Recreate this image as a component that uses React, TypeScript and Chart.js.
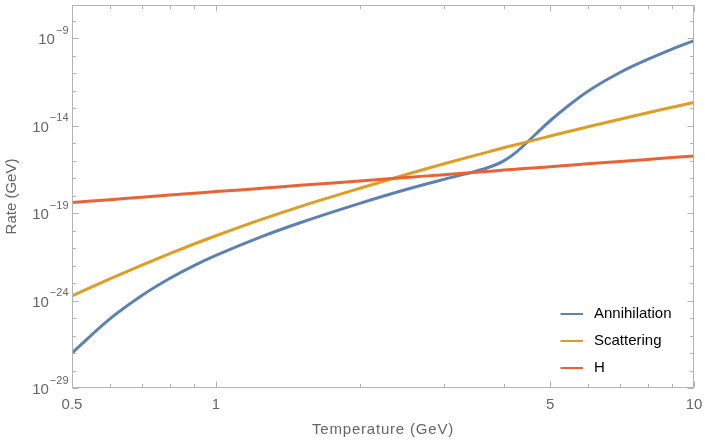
import React, { useEffect, useRef } from "react";
import { Chart, registerables } from "chart.js";

Chart.register(...registerables);

// ---- data ----
const temperatures = [0.5, 0.6, 0.7, 0.8, 0.9, 1, 1.25, 1.5, 2, 2.5, 3, 3.5, 3.75, 4, 4.25, 4.5, 4.75, 5, 5.5, 6, 7, 8, 9, 10];

const annihilationRate = [
  1.0e-27, 8.91e-26, 1.95e-24, 1.82e-23, 1.0e-22, 3.8e-22, 4.68e-21, 2.82e-20, 3.63e-19, 2.24e-18,
  8.51e-18, 2.51e-17, 4.47e-17, 9.77e-17, 3.09e-16, 1.29e-15, 5.25e-15, 1.91e-14, 1.62e-13, 9.33e-13,
  1.1e-11, 6.17e-11, 2.4e-10, 7.24e-10,
];

const scatteringRate = [
  1.86e-24, 1.72e-23, 1.06e-22, 4.79e-22, 1.71e-21, 5.06e-21, 4.51e-20, 2.37e-19, 2.65e-18, 1.62e-17,
  6.59e-17, 2.07e-16, 3.41e-16, 5.41e-16, 8.26e-16, 1.23e-15, 1.78e-15, 2.54e-15, 4.82e-15, 8.59e-15,
  2.34e-14, 5.46e-14, 1.13e-13, 2.15e-13,
];

const hubbleRate = [
  4.07e-19, 5.89e-19, 8.13e-19, 1.07e-18, 1.35e-18, 1.7e-18, 2.63e-18, 3.89e-18, 6.92e-18, 1.1e-17,
  1.58e-17, 2.19e-17, 2.51e-17, 2.88e-17, 3.24e-17, 3.63e-17, 4.07e-17, 4.47e-17, 5.5e-17, 6.61e-17,
  8.91e-17, 1.17e-16, 1.51e-16, 1.86e-16,
];

const seriesNames = ["Annihilation", "Scattering", "H"];
const seriesColors = ["#5E81B5", "#E19C24", "#EB6235"];

const xMajorTicks = [0.5, 1, 5, 10];
const xTickLabels = ["0.5", "1", "5", "10"];
const xMinorTicks = [0.6, 0.7, 0.8, 0.9, 2, 3, 4, 6, 7, 8, 9];

const yMajorExponents = [-29, -24, -19, -14, -9];
const yMinorExponents = [-28, -27, -26, -25, -23, -22, -21, -20, -18, -17, -16, -15, -13, -12, -11, -10, -8];

const xTitle = "Temperature (GeV)";
const yTitle = "Rate (GeV)";

const X_MIN = 0.5;
const X_MAX = 10;
const Y_MIN = 1e-29;
const Y_MAX = 7.94e-8;

const FONT = '"Liberation Sans", Arial, sans-serif';
const FRAME = "#b3b3b3";
const LABEL = "#666666";

const framePlugin = {
  id: "mmaFrame",
  afterDraw(chart: any) {
    const { ctx, chartArea } = chart;
    const xs = chart.scales.x;
    const ys = chart.scales.y;
    const L = Math.round(chartArea.left) + 0.5;
    const R = Math.round(chartArea.right) - 0.5;
    const T = Math.round(chartArea.top) + 0.5;
    const B = Math.round(chartArea.bottom) - 0.5;

    ctx.save();
    ctx.strokeStyle = FRAME;
    ctx.lineWidth = 1;
    ctx.strokeRect(L, T, R - L, B - T);

    ctx.beginPath();
    const xTick = (v: number, len: number) => {
      const px = Math.round(xs.getPixelForValue(v)) + 0.5;
      ctx.moveTo(px, B);
      ctx.lineTo(px, B - len);
      ctx.moveTo(px, T);
      ctx.lineTo(px, T + len);
    };
    const yTick = (v: number, len: number) => {
      const py = Math.round(ys.getPixelForValue(v)) + 0.5;
      ctx.moveTo(L, py);
      ctx.lineTo(L + len, py);
      ctx.moveTo(R, py);
      ctx.lineTo(R - len, py);
    };
    xMajorTicks.forEach((v) => xTick(v, 6));
    xMinorTicks.forEach((v) => xTick(v, 3.5));
    yMajorExponents.forEach((e) => yTick(Math.pow(10, e), 6));
    yMinorExponents.forEach((e) => yTick(Math.pow(10, e), 3.5));
    ctx.stroke();

    // x tick labels
    ctx.fillStyle = LABEL;
    ctx.font = `15px ${FONT}`;
    ctx.textAlign = "center";
    ctx.textBaseline = "alphabetic";
    xMajorTicks.forEach((v, i) => {
      ctx.fillText(xTickLabels[i], xs.getPixelForValue(v), chartArea.bottom + 21);
    });

    // y tick labels: 10^e with superscript
    yMajorExponents.forEach((e) => {
      const py = ys.getPixelForValue(Math.pow(10, e));
      const sup = "\u2212" + String(Math.abs(e));
      ctx.font = `11px ${FONT}`;
      const wSup = ctx.measureText(sup).width;
      ctx.font = `15px ${FONT}`;
      const wBase = ctx.measureText("10").width;
      const right = chartArea.left - 3.5;
      const gap = 1;
      const x0 = right - wSup - gap - wBase;
      ctx.textAlign = "left";
      ctx.font = `15px ${FONT}`;
      ctx.fillText("10", x0, py + 6);
      ctx.font = `11px ${FONT}`;
      ctx.fillText(sup, x0 + wBase + gap, py - 4.5);
    });

    // axis titles
    ctx.font = `15px ${FONT}`;
    ctx.textAlign = "center";
    (ctx as any).letterSpacing = "0.8px";
    ctx.fillText(xTitle, (chartArea.left + chartArea.right) / 2, chartArea.bottom + 46);
    (ctx as any).letterSpacing = "0px";
    ctx.save();
    ctx.translate(16, (chartArea.top + chartArea.bottom) / 2);
    ctx.rotate(-Math.PI / 2);
    ctx.fillText(yTitle, 0, 0);
    ctx.restore();

    // legend (inside plot, bottom right)
    const lx0 = chartArea.right - 133.5;
    const lx1 = chartArea.right - 111;
    const tx = chartArea.right - 100;
    const rowY = [chartArea.bottom - 74, chartArea.bottom - 47, chartArea.bottom - 20];
    chart.data.datasets.forEach((ds: any, i: number) => {
      const y = rowY[i];
      ctx.strokeStyle = ds.borderColor;
      ctx.lineWidth = 2;
      ctx.beginPath();
      ctx.moveTo(lx0, y);
      ctx.lineTo(lx1, y);
      ctx.stroke();
      ctx.fillStyle = "#000000";
      ctx.font = `15px ${FONT}`;
      ctx.textAlign = "left";
      ctx.textBaseline = "middle";
      ctx.fillText(ds.label, tx, y);
    });
    ctx.restore();
  },
};

export default function App() {
  const canvasRef = useRef<HTMLCanvasElement | null>(null);

  useEffect(() => {
    if (!canvasRef.current) return;
    const series = [annihilationRate, scatteringRate, hubbleRate];
    const chart = new Chart(canvasRef.current, {
      type: "line",
      data: {
        datasets: series.map((arr, i) => ({
          label: seriesNames[i],
          data: temperatures.map((t, j) => ({ x: t, y: arr[j] })),
          borderColor: seriesColors[i],
          backgroundColor: seriesColors[i],
          borderWidth: 3,
          pointRadius: 0,
          fill: false,
          cubicInterpolationMode: "monotone" as const,
          order: 3 - i,
        })),
      },
      options: {
        animation: false,
        responsive: true,
        maintainAspectRatio: false,
        layout: { padding: { left: 72, right: 11, top: 5, bottom: 53 } },
        scales: {
          x: { type: "logarithmic", min: X_MIN, max: X_MAX, display: false },
          y: { type: "logarithmic", min: Y_MIN, max: Y_MAX, display: false },
        },
        plugins: { legend: { display: false }, tooltip: { enabled: false } },
        events: [],
      },
      plugins: [framePlugin],
    });
    return () => chart.destroy();
  }, []);

  return (
    <div style={{ position: "fixed", left: 0, top: 0, width: 705, height: 441, background: "#ffffff" }}>
      <canvas ref={canvasRef} />
    </div>
  );
}
